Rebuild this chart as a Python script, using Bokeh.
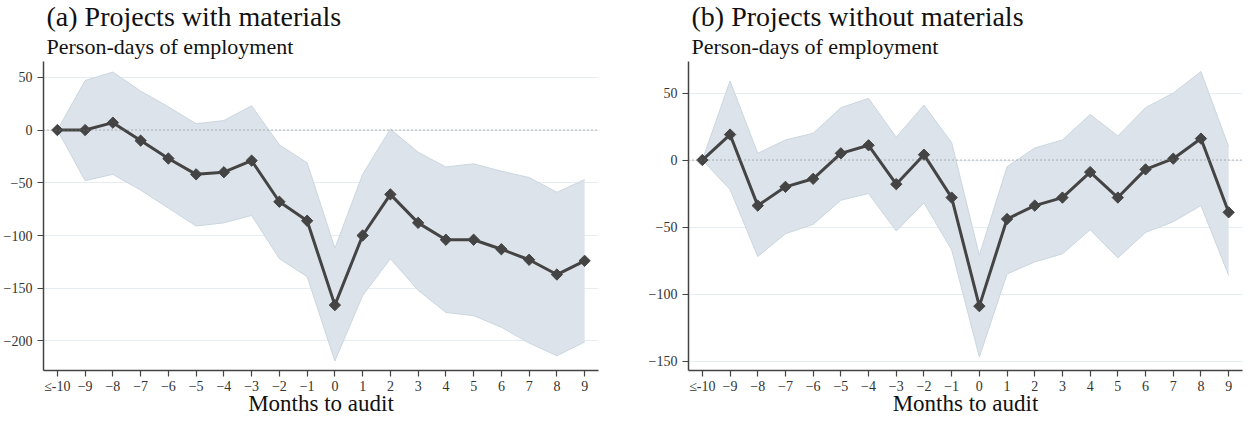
import math
from bokeh.plotting import figure
from bokeh.models import Range1d, FixedTicker, Title, Span
from bokeh.layouts import row
from bokeh.embed import file_html
from bokeh.resources import INLINE

months = list(range(-10, 10))
month_labels = {-10: "≤-10"}

# (a) Projects with materials
a_coef = [0, 0, 7, -10, -27, -42, -40, -29, -68, -86, -166, -100, -61, -88, -104, -104, -113, -123, -137, -124]
a_upper = [0, 47, 55, 37, 22, 6, 9, 23, -14, -31, -112, -42, 1, -21, -35, -32, -39, -45, -59, -47]
a_lower = [0, -48, -42, -57, -74, -91, -88, -81, -122, -139, -219, -157, -122, -152, -173, -176, -187, -202, -214, -201]
a_yticks = [50, 0, -50, -100, -150, -200]

# (b) Projects without materials
b_coef = [0, 19, -34, -20, -14, 5, 11, -18, 4, -28, -109, -44, -34, -28, -9, -28, -7, 1, 16, -39]
b_upper = [0, 59, 5, 15, 20, 39, 46, 17, 41, 13, -71, -5, 9, 15, 34, 18, 39, 50, 66, 10]
b_lower = [0, -22, -72, -55, -48, -30, -25, -53, -32, -67, -147, -85, -76, -70, -52, -73, -54, -46, -34, -86]
b_yticks = [50, 0, -50, -100, -150]

SERIF = "Liberation Serif"


def make_panel(title, coef, upper, lower, yticks, yrange, bl, br):
    p = figure(width=622, height=418, x_range=Range1d(-10.5, 9.5), y_range=Range1d(*yrange),
               output_backend="svg", toolbar_location=None, title=None,
               min_border_left=bl, min_border_right=br, min_border_top=0, min_border_bottom=0)
    p.outline_line_color = None
    p.background_fill_color = "white"
    p.border_fill_color = "white"
    p.add_layout(Title(text="Person-days of employment", text_font=SERIF, text_font_size="22px",
                       text_font_style="normal", text_color="#111111", align="left", standoff=5, offset=3), "above")
    p.add_layout(Title(text=title, text_font=SERIF, text_font_size="28px",
                       text_font_style="normal", text_color="#111111", align="left", standoff=-4, offset=3), "above")
    p.xgrid.visible = False
    p.ygrid.ticker = FixedTicker(ticks=yticks)
    p.ygrid.grid_line_color = "#e6edf2"
    p.ygrid.grid_line_width = 1.2
    p.yaxis.ticker = FixedTicker(ticks=yticks)
    p.xaxis.ticker = FixedTicker(ticks=months)
    p.xaxis.major_label_overrides = month_labels
    for ax in (p.xaxis, p.yaxis):
        ax.axis_line_color = "#444444"
        ax.axis_line_width = 1.5
        ax.major_tick_line_color = "#444444"
        ax.major_tick_line_width = 1.2
        ax.major_tick_out = 6
        ax.major_tick_in = 0
        ax.minor_tick_line_color = None
        ax.major_label_text_font = SERIF
        ax.major_label_text_font_size = "14px"
        ax.major_label_text_color = "#333333"
    p.xaxis.major_label_standoff = 2
    p.yaxis.major_label_standoff = 5
    p.xaxis.axis_label = "Months to audit"
    p.xaxis.axis_label_text_font = SERIF
    p.xaxis.axis_label_text_font_size = "23px"
    p.xaxis.axis_label_text_font_style = "normal"
    p.xaxis.axis_label_text_color = "#111111"
    p.xaxis.axis_label_standoff = -6

    p.varea(x=months, y1=lower, y2=upper, fill_color="#dce3ea", fill_alpha=1.0)
    p.line(months, upper, line_color="#cbd6df", line_width=1)
    p.line(months, lower, line_color="#cbd6df", line_width=1)
    p.add_layout(Span(location=0, dimension="width", line_color="#777777", line_width=1, line_dash="1 3"))
    p.line(months, coef, line_color="#444444", line_width=3)
    p.scatter(months, coef, marker="square", size=8, angle=math.pi / 4,
              fill_color="#444444", line_color="#444444", line_width=1)
    return p


p1 = make_panel("(a) Projects with materials", a_coef, a_upper, a_lower, a_yticks, (-228, 65), 38, 24)
p2 = make_panel("(b) Projects without materials", b_coef, b_upper, b_lower, b_yticks, (-157, 73.5), 66, 2)

layout = row(p1, p2)
open("out.html", "w").write(file_html(layout, INLINE))
